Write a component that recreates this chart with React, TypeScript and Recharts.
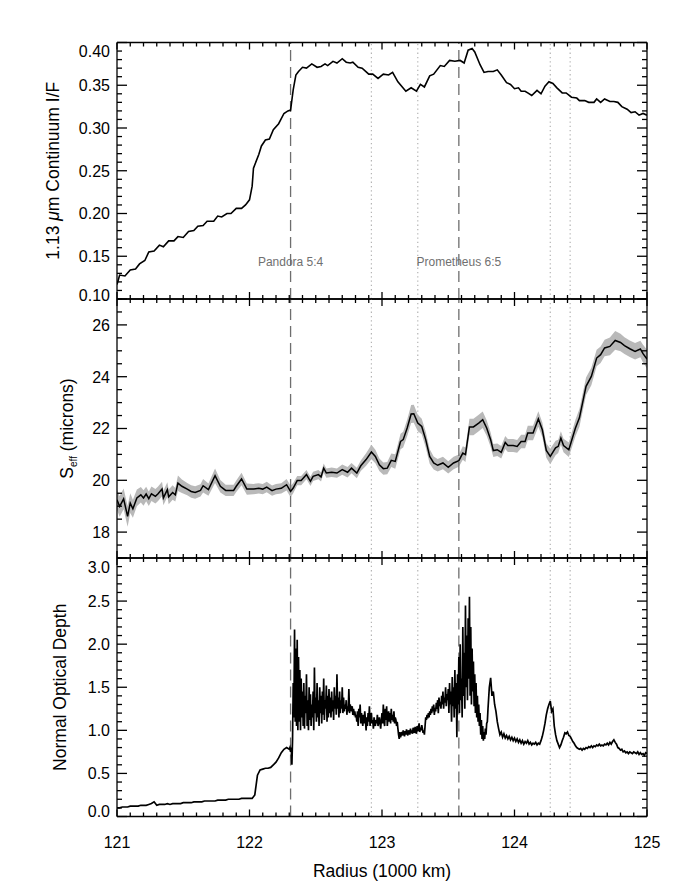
import React from 'react';
import { ComposedChart, Line, Area, XAxis, YAxis, ReferenceLine } from 'recharts';

const W = 691;
const H = 893;
const PLOT_L = 117;
const PLOT_R = 647;
const FONT = '"Liberation Sans", Arial, Helvetica, sans-serif';

// ---------- shared x axis ----------
const radiusDomain: [number, number] = [121, 125];
const radiusMajor = [121, 122, 123, 124, 125];
const radiusTicks = Array.from({ length: 41 }, (_, i) => (1210 + i) / 10);

const pandoraR = 122.31;
const prometheusR = 123.58;
const dottedR = [122.92, 123.27, 124.27, 124.42];

// ---------- panel 1: 1.13 um continuum I/F ----------
const ifRadius = [
  121.00, 121.02, 121.06, 121.10, 121.14, 121.17, 121.21, 121.24, 121.28, 121.32,
  121.35, 121.39, 121.43, 121.46, 121.50, 121.54, 121.58, 121.61, 121.65, 121.68,
  121.73, 121.76, 121.79, 121.83, 121.86, 121.90, 121.94, 121.97, 122.00, 122.02,
  122.03, 122.07, 122.09, 122.12, 122.15, 122.18, 122.22, 122.26, 122.29, 122.31,
  122.33, 122.35, 122.37, 122.40, 122.43, 122.47, 122.51, 122.54, 122.57, 122.59,
  122.63, 122.66, 122.70, 122.73, 122.76, 122.78, 122.82, 122.85, 122.90, 122.93,
  122.97, 123.01, 123.05, 123.08, 123.12, 123.18, 123.22, 123.26, 123.29, 123.32,
  123.36, 123.39, 123.44, 123.47, 123.51, 123.55, 123.59, 123.62, 123.65, 123.68,
  123.70, 123.74, 123.77, 123.80, 123.84, 123.87, 123.90, 123.94, 123.97, 124.00,
  124.03, 124.05, 124.08, 124.10, 124.13, 124.17, 124.20, 124.23, 124.26, 124.29,
  124.32, 124.36, 124.39, 124.43, 124.47, 124.49, 124.53, 124.56, 124.60, 124.62,
  124.65, 124.68, 124.72, 124.75, 124.78, 124.81, 124.85, 124.88, 124.91, 124.94,
  124.97, 125.00,
];
const ifValue = [
  0.117, 0.128, 0.127, 0.134, 0.135, 0.141, 0.145, 0.155, 0.156, 0.163,
  0.161, 0.168, 0.168, 0.173, 0.172, 0.179, 0.180, 0.185, 0.186, 0.191,
  0.191, 0.197, 0.196, 0.200, 0.200, 0.206, 0.206, 0.210, 0.216, 0.232,
  0.253, 0.269, 0.279, 0.286, 0.287, 0.298, 0.305, 0.317, 0.320, 0.321,
  0.345, 0.362, 0.366, 0.371, 0.370, 0.375, 0.371, 0.372, 0.375, 0.373,
  0.378, 0.376, 0.381, 0.377, 0.376, 0.377, 0.371, 0.370, 0.363, 0.363,
  0.358, 0.363, 0.362, 0.365, 0.354, 0.343, 0.347, 0.343, 0.351, 0.348,
  0.361, 0.363, 0.373, 0.372, 0.379, 0.378, 0.379, 0.376, 0.391, 0.393,
  0.389, 0.374, 0.365, 0.366, 0.366, 0.368, 0.362, 0.353, 0.351, 0.346,
  0.347, 0.343, 0.343, 0.341, 0.338, 0.344, 0.340, 0.349, 0.354, 0.352,
  0.347, 0.341, 0.341, 0.336, 0.335, 0.332, 0.332, 0.330, 0.330, 0.334,
  0.330, 0.334, 0.331, 0.331, 0.330, 0.325, 0.322, 0.318, 0.319, 0.315,
  0.317, 0.315,
];
const ifDomain: [number, number] = [0.1, 0.4];
const ifMajor = [0.10, 0.15, 0.20, 0.25, 0.30, 0.35, 0.40];
const ifTicks = Array.from({ length: 31 }, (_, i) => (10 + i) / 100);

// ---------- panel 2: S_eff ----------
const seffRadius = [
  121.00, 121.02, 121.05, 121.08, 121.10, 121.12, 121.15, 121.18, 121.20, 121.22,
  121.24, 121.26, 121.29, 121.31, 121.34, 121.35, 121.38, 121.39, 121.42, 121.44,
  121.46, 121.49, 121.53, 121.56, 121.59, 121.63, 121.65, 121.69, 121.74, 121.78,
  121.82, 121.88, 121.90, 121.94, 121.98, 122.03, 122.07, 122.10, 122.13, 122.17,
  122.20, 122.24, 122.28, 122.31, 122.33, 122.36, 122.39, 122.43, 122.46, 122.48,
  122.52, 122.54, 122.56, 122.58, 122.62, 122.66, 122.70, 122.74, 122.77, 122.81,
  122.84, 122.88, 122.92, 122.95, 122.98, 123.01, 123.04, 123.07, 123.10, 123.14,
  123.16, 123.19, 123.22, 123.24, 123.27, 123.30, 123.33, 123.36, 123.39, 123.42,
  123.46, 123.50, 123.54, 123.58, 123.61, 123.63, 123.66, 123.69, 123.73, 123.76,
  123.79, 123.82, 123.84, 123.87, 123.90, 123.93, 123.95, 123.99, 124.02, 124.05,
  124.08, 124.10, 124.14, 124.18, 124.21, 124.24, 124.27, 124.31, 124.33, 124.35,
  124.37, 124.41, 124.46, 124.49, 124.54, 124.58, 124.62, 124.65, 124.68, 124.72,
  124.76, 124.80, 124.83, 124.87, 124.91, 124.95, 124.97, 125.00,
];
const seffValue = [
  19.25, 18.99, 19.28, 18.61, 19.12, 18.90, 19.32, 19.44, 19.32, 19.47,
  19.29, 19.48, 19.38, 19.48, 19.66, 19.32, 19.64, 19.36, 19.53, 19.44,
  19.89, 19.77, 19.66, 19.57, 19.53, 19.61, 19.79, 19.64, 20.18, 19.77,
  19.61, 19.61, 19.77, 20.05, 19.66, 19.66, 19.69, 19.66, 19.74, 19.60,
  19.66, 19.69, 19.83, 19.57, 19.70, 19.99, 19.99, 20.22, 19.96, 20.15,
  20.22, 20.13, 20.47, 20.28, 20.31, 20.28, 20.41, 20.31, 20.47, 20.28,
  20.56, 20.80, 21.09, 20.92, 20.60, 20.45, 20.47, 20.77, 20.73, 21.50,
  21.57, 22.02, 22.56, 22.57, 22.21, 22.08, 21.57, 20.92, 20.67, 20.58,
  20.67, 20.50, 20.67, 20.76, 21.05, 20.99, 22.06, 22.06, 22.21, 22.34,
  22.02, 21.57, 21.15, 21.18, 21.08, 21.46, 21.34, 21.34, 21.31, 21.50,
  21.50, 21.83, 21.83, 22.37, 21.95, 21.15, 20.92, 21.25, 21.31, 21.63,
  21.34, 21.18, 22.02, 22.41, 23.63, 24.01, 24.72, 24.85, 25.11, 25.17,
  25.40, 25.32, 25.20, 25.08, 24.98, 25.07, 24.89, 24.68,
];
const seffError = [
  0.40, 0.40, 0.40, 0.40, 0.38, 0.35, 0.32, 0.30, 0.30, 0.28,
  0.28, 0.28, 0.28, 0.28, 0.28, 0.28, 0.28, 0.28, 0.28, 0.26,
  0.30, 0.26, 0.24, 0.24, 0.24, 0.24, 0.26, 0.24, 0.28, 0.24,
  0.22, 0.22, 0.22, 0.24, 0.22, 0.20, 0.20, 0.20, 0.20, 0.20,
  0.20, 0.20, 0.22, 0.22, 0.20, 0.18, 0.18, 0.18, 0.18, 0.18,
  0.18, 0.18, 0.18, 0.18, 0.18, 0.18, 0.20, 0.20, 0.20, 0.20,
  0.20, 0.24, 0.28, 0.26, 0.24, 0.24, 0.24, 0.26, 0.28, 0.30,
  0.30, 0.32, 0.35, 0.35, 0.32, 0.30, 0.30, 0.28, 0.25, 0.24,
  0.24, 0.24, 0.24, 0.24, 0.26, 0.28, 0.32, 0.32, 0.32, 0.32,
  0.30, 0.28, 0.25, 0.24, 0.24, 0.25, 0.25, 0.25, 0.25, 0.26,
  0.26, 0.28, 0.28, 0.30, 0.28, 0.28, 0.30, 0.28, 0.26, 0.26,
  0.26, 0.28, 0.32, 0.34, 0.34, 0.34, 0.32, 0.32, 0.32, 0.34,
  0.36, 0.34, 0.32, 0.32, 0.32, 0.32, 0.34, 0.36,
];
const seffDomain: [number, number] = [17, 27];
const seffMajor = [18, 20, 22, 24, 26];
const seffTicks = Array.from({ length: 21 }, (_, i) => 17 + i / 2);

// ---------- panel 3: normal optical depth ----------
// three segments sampled on regular radius grids
const tauStartA = 121.0;
const tauStepA = 0.02;
const tauA = [
  0.10, 0.10, 0.11, 0.11, 0.11, 0.12, 0.12, 0.12, 0.12, 0.13,
  0.13, 0.13, 0.14, 0.15, 0.17, 0.13, 0.14, 0.14, 0.14, 0.15,
  0.14, 0.15, 0.15, 0.15, 0.15, 0.16, 0.16, 0.16, 0.16, 0.17,
  0.17, 0.17, 0.17, 0.18, 0.18, 0.18, 0.18, 0.18, 0.19, 0.19,
  0.19, 0.19, 0.20, 0.20, 0.20, 0.20, 0.20, 0.21, 0.21, 0.21,
  0.21, 0.21, 0.25, 0.48, 0.54, 0.55, 0.56, 0.56, 0.57, 0.60,
  0.63, 0.68, 0.74, 0.78, 0.80,
];
const tauStartB = 122.3;
const tauStepB = 0.005;
const tauB = [
  0.78, 0.80, 0.75, 0.80, 0.60, 0.90, 1.55, 1.15, 2.17, 1.10,
  1.95, 1.05, 2.05, 1.00, 1.85, 1.10, 1.70, 1.00, 1.60, 1.15,
  1.45, 1.05, 1.55, 1.02, 1.40, 1.20, 1.65, 1.05, 1.35, 1.00,
  1.50, 1.12, 1.42, 1.05, 1.30, 1.15, 1.45, 1.00, 1.73, 1.20,
  1.38, 1.10, 1.55, 1.15, 1.35, 1.05, 1.50, 1.20, 1.40, 1.08,
  1.45, 1.18, 1.60, 1.12, 1.35, 1.25, 1.52, 1.10, 1.40, 1.15,
  1.48, 1.20, 1.38, 1.15, 1.45, 1.22, 1.35, 1.12, 1.50, 1.25,
  1.40, 1.18, 1.65, 1.25, 1.38, 1.15, 1.45, 1.20, 1.35, 1.25,
  1.50, 1.20, 1.38, 1.22, 1.30, 1.25, 1.35, 1.18, 1.28, 1.22,
  1.48, 1.20, 1.30, 1.25, 1.22, 1.28, 1.18, 1.25, 1.20, 1.22,
  1.15, 1.18, 1.10, 1.22, 1.05, 1.25, 1.15, 1.30, 1.08, 1.20,
  1.12, 1.05, 1.18, 1.08, 1.22, 1.12, 1.00, 1.15, 1.05, 1.20,
  1.10, 1.28, 1.05, 1.15, 1.20, 1.08, 1.12, 1.02, 1.15, 1.10,
  1.05, 1.12, 1.08, 1.18, 1.05, 1.10, 1.15, 1.08, 1.02, 1.12,
  1.20, 1.08, 1.30, 1.10, 1.05, 1.25, 1.12, 1.28, 1.05, 1.15,
  1.22, 1.10, 1.20, 1.08, 1.25, 1.12, 1.18, 1.10, 1.22, 1.08,
  1.15, 1.12, 1.05, 1.10, 1.02, 0.95, 0.90, 0.98, 0.92, 0.95,
  0.98, 0.94, 1.00, 0.96, 0.93, 0.99, 0.95, 1.01, 0.97, 0.94,
  1.00, 0.98, 0.95, 1.02, 0.97, 1.00, 0.96, 1.03, 0.99, 0.97,
  1.04, 1.00, 0.96, 1.05, 0.99, 1.02, 1.08, 0.98, 1.03, 1.00,
  1.06, 1.02, 0.97, 1.00, 0.95, 1.05, 1.15, 1.12, 1.18, 1.14,
  1.20, 1.15, 1.22, 1.18, 1.25, 1.20, 1.28, 1.22, 1.30, 1.18,
  1.26, 1.22, 1.32, 1.25, 1.35, 1.20, 1.38, 1.28, 1.33, 1.25,
  1.40, 1.30, 1.45, 1.25, 1.38, 1.32, 1.50, 1.28, 1.42, 1.35,
  1.48, 1.20, 1.55, 1.30, 1.45, 1.10, 1.62, 1.28, 1.50, 1.15,
  1.70, 1.25, 1.55, 0.92, 1.65, 1.30, 1.85, 1.20, 2.00, 1.35,
  1.60, 1.15, 2.20, 1.40, 1.90, 1.25, 2.45, 1.50, 2.10, 1.35,
  2.30, 1.60, 2.55, 1.40, 2.20, 1.30, 1.95, 1.45, 1.80, 1.28,
  1.65, 1.20, 1.55, 1.15, 1.40, 1.10, 1.30, 1.05, 1.20, 0.95,
  1.12, 0.90, 1.05, 0.88, 0.98, 0.90, 1.02, 0.95, 1.08, 1.10,
];
const tauStartC = 123.8;
const tauStepC = 0.01;
const tauC = [
  1.25, 1.50, 1.61, 1.40, 1.45, 1.30, 1.22, 1.10, 1.02, 0.95,
  0.98, 0.92, 0.96, 0.91, 0.94, 0.90, 0.93, 0.89, 0.92, 0.88,
  0.91, 0.87, 0.90, 0.86, 0.89, 0.85, 0.88, 0.84, 0.87, 0.85,
  0.88, 0.84, 0.86, 0.83, 0.85, 0.84, 0.86, 0.83, 0.85, 0.84,
  0.88, 0.93, 1.00, 1.08, 1.18, 1.25, 1.30, 1.34, 1.22, 1.25,
  1.05, 0.95, 0.88, 0.84, 0.80, 0.83, 0.88, 0.92, 0.97, 0.96,
  0.98, 0.94, 0.93, 0.90, 0.87, 0.85, 0.82, 0.80, 0.79, 0.78,
  0.79, 0.77, 0.79, 0.78, 0.80, 0.79, 0.81, 0.80, 0.82, 0.80,
  0.82, 0.81, 0.83, 0.82, 0.84, 0.82, 0.83, 0.82, 0.84, 0.83,
  0.85, 0.83, 0.86, 0.84, 0.87, 0.89, 0.86, 0.84, 0.80, 0.79,
  0.77, 0.78, 0.75, 0.76, 0.74, 0.75, 0.73, 0.75, 0.74, 0.73,
  0.75, 0.74, 0.73, 0.75, 0.72, 0.74, 0.72, 0.73, 0.71, 0.74,
  0.73,
];
const tauDomain: [number, number] = [0, 3];
const tauMajor = [0, 0.5, 1.0, 1.5, 2.0, 2.5, 3.0];
const tauTicks = Array.from({ length: 31 }, (_, i) => i / 10);

// ---------- build chart tables ----------
const ifData = ifRadius.map((r, i) => ({ r, v: ifValue[i] }));
const seffData = seffRadius.map((r, i) => ({
  r,
  v: seffValue[i],
  band: [seffValue[i] - seffError[i], seffValue[i] + seffError[i]],
}));
const seg = (start: number, step: number, vals: number[]) =>
  vals.map((v, i) => ({ r: Math.round((start + i * step) * 10000) / 10000, v }));
const tauData = [
  ...seg(tauStartA, tauStepA, tauA),
  ...seg(tauStartB, tauStepB, tauB),
  ...seg(tauStartC, tauStepC, tauC),
];

// ---------- ticks: every tick mark is placed at the coordinate the axis hands to its tick renderer ----------
const isMajor = (majors: number[], v: number) => majors.some((m) => Math.abs(m - v) < 1e-6);

type Side = 'bottom' | 'top' | 'left' | 'right';
interface TickOpts {
  side: Side;
  majors: number[];
  edge: number;
  majorLen: number;
  minorLen: number;
  labels?: boolean;
  fmt?: (v: number) => string;
  shift?: (v: number) => number;
}

function makeTick(o: TickOpts) {
  return (props: any) => {
    const v = props.payload.value;
    const major = isMajor(o.majors, v);
    const len = major ? o.majorLen : o.minorLen;
    const horizontalAxis = o.side === 'bottom' || o.side === 'top';
    const c = Number(props.payload.coordinate ?? (horizontalAxis ? props.x : props.y));
    let d: string;
    let lab: any = null;
    if (horizontalAxis) {
      const dir = o.side === 'bottom' ? -1 : 1;
      d = `M${c},${o.edge}L${c},${o.edge + dir * len}`;
      if (o.labels && major) {
        lab = (
          <text x={c} y={o.edge + 31.8} textAnchor="middle" fontSize={16} fill="#000" stroke="none" fontFamily={FONT}>
            {o.fmt ? o.fmt(v) : String(v)}
          </text>
        );
      }
    } else {
      const dir = o.side === 'left' ? 1 : -1;
      d = `M${o.edge},${c}L${o.edge + dir * len},${c}`;
      if (o.labels && major) {
        const s = o.shift ? o.shift(v) : 0;
        lab = (
          <text x={o.edge - 7} y={c + s + 5.8} textAnchor="end" fontSize={16} fill="#000" stroke="none" fontFamily={FONT}>
            {o.fmt ? o.fmt(v) : String(v)}
          </text>
        );
      }
    }
    return (
      <g>
        <path d={d} stroke="#000" strokeWidth={1.3} fill="none" />
        {lab}
      </g>
    );
  };
}

const axisLineStyle = { stroke: '#000', strokeWidth: 1.3 };

type Panel = { top: number; bottom: number };

function frame(
  p: Panel,
  yDomain: [number, number],
  yTicks: number[],
  yMajor: number[],
  yFmt: (v: number) => string,
  yShift: (v: number) => number,
  xLabels: boolean
) {
  return [
    <XAxis key="xb" xAxisId="b" dataKey="r" type="number" orientation="bottom" domain={radiusDomain} ticks={radiusTicks}
      interval={0} height={1} tickSize={0} tickMargin={0} tickLine={false} axisLine={axisLineStyle} allowDataOverflow
      tick={makeTick({ side: 'bottom', majors: radiusMajor, edge: p.bottom, majorLen: 7, minorLen: 4, labels: xLabels })} />,
    <XAxis key="xt" xAxisId="t" dataKey="r" type="number" orientation="top" domain={radiusDomain} ticks={radiusTicks}
      interval={0} height={1} tickSize={0} tickMargin={0} tickLine={false} axisLine={axisLineStyle} allowDataOverflow
      tick={makeTick({ side: 'top', majors: radiusMajor, edge: p.top, majorLen: 7, minorLen: 4 })} />,
    <YAxis key="yl" yAxisId="l" type="number" orientation="left" domain={yDomain} ticks={yTicks} interval={0} width={1}
      tickSize={0} tickMargin={0} tickLine={false} axisLine={axisLineStyle} allowDataOverflow
      tick={makeTick({ side: 'left', majors: yMajor, edge: PLOT_L, majorLen: 10, minorLen: 5, labels: true, fmt: yFmt, shift: yShift })} />,
    <YAxis key="yr" yAxisId="r" type="number" orientation="right" domain={yDomain} ticks={yTicks} interval={0} width={1}
      tickSize={0} tickMargin={0} tickLine={false} axisLine={axisLineStyle} allowDataOverflow
      tick={makeTick({ side: 'right', majors: yMajor, edge: PLOT_R, majorLen: 10, minorLen: 5 })} />,
  ];
}

function refLines(withLabels: boolean) {
  const out: any[] = [];
  dottedR.forEach((r) =>
    out.push(
      <ReferenceLine key={'d' + r} x={r} xAxisId="b" yAxisId="l" stroke="#b4b4b4" strokeWidth={1.2} strokeDasharray="1.3 3" />
    )
  );
  out.push(
    <ReferenceLine
      key="pan"
      x={pandoraR}
      xAxisId="b"
      yAxisId="l"
      stroke="#6e6e6e"
      strokeWidth={1.3}
      strokeDasharray="11 6"
      label={withLabels ? { value: 'Pandora 5:4', position: 'insideBottom', offset: 33, fill: '#707070', fontSize: 12 } : undefined}
    />
  );
  out.push(
    <ReferenceLine
      key="pro"
      x={prometheusR}
      xAxisId="b"
      yAxisId="l"
      stroke="#6e6e6e"
      strokeWidth={1.3}
      strokeDasharray="11 6"
      label={withLabels ? { value: 'Prometheus 6:5', position: 'insideBottom', offset: 33, fill: '#707070', fontSize: 12 } : undefined}
    />
  );
  return out;
}

const P1: Panel = { top: 42.5, bottom: 299 };
const P2: Panel = { top: 299, bottom: 558 };
const P3: Panel = { top: 558, bottom: 816.5 };

// each axis takes 1px, so the margins are reduced by 1
const marginFor = (p: Panel) => ({
  top: p.top - 1,
  bottom: H - p.bottom - 1,
  left: PLOT_L - 1,
  right: W - PLOT_R - 1,
});

const layer: React.CSSProperties = { position: 'absolute', left: 0, top: 0 };

export default function App() {
  return (
    <div style={{ position: 'absolute', left: 0, top: 0, width: W, height: H, background: '#fff', fontFamily: FONT }}>
      <div style={layer}>
        <ComposedChart width={W} height={H} data={ifData} margin={marginFor(P1)}>
          {frame(P1, ifDomain, ifTicks, ifMajor, (v) => v.toFixed(2), (v) => (v >= 0.399 ? 8.6 : v <= 0.101 ? -4.3 : 0), false)}
          {refLines(true)}
          <Line xAxisId="b" yAxisId="l" dataKey="v" type="linear" stroke="#000" strokeWidth={1.6} dot={false} isAnimationActive={false} />
        </ComposedChart>
      </div>
      <div style={layer}>
        <ComposedChart width={W} height={H} data={seffData} margin={marginFor(P2)}>
          {frame(P2, seffDomain, seffTicks, seffMajor, (v) => String(v), () => 0, false)}
          {refLines(false)}
          <Area xAxisId="b" yAxisId="l" dataKey="band" type="linear" stroke="none" fill="#b9b9b9" fillOpacity={1} isAnimationActive={false} />
          <Line xAxisId="b" yAxisId="l" dataKey="v" type="linear" stroke="#000" strokeWidth={1.5} dot={false} isAnimationActive={false} />
        </ComposedChart>
      </div>
      <div style={layer}>
        <ComposedChart width={W} height={H} data={tauData} margin={marginFor(P3)}>
          {frame(P3, tauDomain, tauTicks, tauMajor, (v) => v.toFixed(1), (v) => (v >= 2.99 ? 9 : v <= 0.01 ? -5 : 0), true)}
          {refLines(false)}
          <Line xAxisId="b" yAxisId="l" dataKey="v" type="linear" stroke="#000" strokeWidth={1.7} dot={false} isAnimationActive={false} />
        </ComposedChart>
      </div>
      <svg width={W} height={H} style={{ position: 'absolute', left: 0, top: 0, pointerEvents: 'none' }}>
        <g fontFamily={FONT} fontSize={17.5} fill="#000">
          <text transform={`translate(58.5, ${(P1.top + P1.bottom) / 2}) rotate(-90)`} textAnchor="middle">
            1.13 <tspan fontStyle="italic">μ</tspan>m Continuum I/F
          </text>
          <text transform={`translate(72.5, ${(P2.top + P2.bottom) / 2}) rotate(-90)`} textAnchor="middle">
            S<tspan fontSize={10} dy={4}>eff</tspan>
            <tspan dy={-4}> (microns)</tspan>
          </text>
          <text transform={`translate(66, ${(P3.top + P3.bottom) / 2}) rotate(-90)`} textAnchor="middle">
            Normal Optical Depth
          </text>
          <text x={(PLOT_L + PLOT_R) / 2} y={876.5} textAnchor="middle">
            Radius (1000 km)
          </text>
        </g>
      </svg>
    </div>
  );
}
